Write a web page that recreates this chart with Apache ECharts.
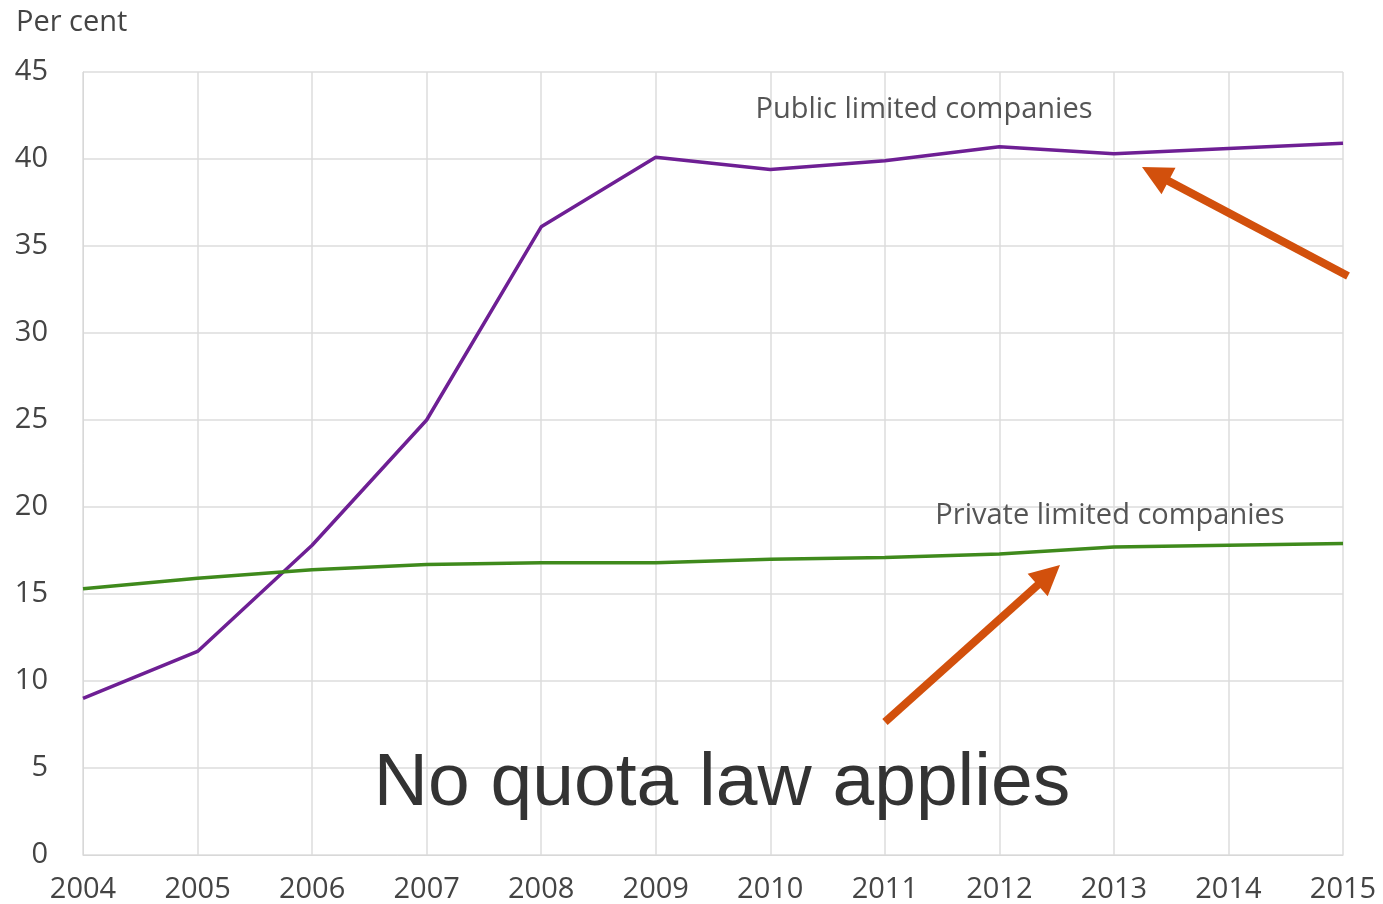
<!DOCTYPE html>
<html>
<head>
<meta charset="utf-8">
<script src="https://cdn.jsdelivr.net/npm/echarts@6/dist/echarts.min.js"></script>
<style>
  html, body { margin: 0; padding: 0; background: #fff; }
  #main { width: 1383px; height: 904px; }
</style>
</head>
<body>
<div id="main"></div>
<script>
var years = ['2004', '2005', '2006', '2007', '2008', '2009', '2010', '2011', '2012', '2013', '2014', '2015'];
var publicCos = [9.0, 11.7, 17.8, 25.0, 36.1, 40.1, 39.4, 39.9, 40.7, 40.3, 40.6, 40.9];
var privateCos = [15.3, 15.9, 16.4, 16.7, 16.8, 16.8, 17.0, 17.1, 17.3, 17.7, 17.8, 17.9];

var chart = echarts.init(document.getElementById('main'));
var font = '"Open Sans", "DejaVu Sans", sans-serif';
var arrowColor = '#d2500c';

// arrow from (x1,y1) to tip (x2,y2) in pixels
function arrow(x1, y1, x2, y2) {
  var dx = x2 - x1, dy = y2 - y1;
  var len = Math.sqrt(dx * dx + dy * dy);
  var ux = dx / len, uy = dy / len;
  var headLen = 30, headW = 15;
  var bx = x2 - ux * headLen, by = y2 - uy * headLen;
  return [{
    type: 'line', z: 100,
    shape: { x1: x1, y1: y1, x2: bx + ux * 2, y2: by + uy * 2 },
    style: { stroke: arrowColor, lineWidth: 8 }
  }, {
    type: 'polygon', z: 100,
    shape: { points: [[x2, y2], [bx - uy * headW, by + ux * headW], [bx + uy * headW, by - ux * headW]] },
    style: { fill: arrowColor }
  }];
}

chart.setOption({
  animation: false,
  grid: { left: 83, right: 40, top: 72, bottom: 49 },
  xAxis: {
    type: 'category',
    data: years,
    boundaryGap: false,
    axisLine: { lineStyle: { color: '#d8d8d8' } },
    axisTick: { show: false },
    axisLabel: { color: '#444', fontSize: 29, fontFamily: font, margin: 20 },
    splitLine: { show: true, lineStyle: { color: '#dcdcdc', width: 1.5 } }
  },
  yAxis: {
    type: 'value',
    min: 0,
    max: 45,
    interval: 5,
    axisLine: { show: true, lineStyle: { color: '#d8d8d8' } },
    axisTick: { show: false },
    axisLabel: { color: '#444', fontSize: 29, fontFamily: font, margin: 35, padding: [4, 0, 0, 0] },
    splitLine: { lineStyle: { color: '#dcdcdc', width: 1.5 } }
  },
  series: [{
    name: 'Public limited companies',
    type: 'line',
    data: publicCos,
    symbol: 'none',
    lineStyle: { color: '#6e1f94', width: 3.5 }
  }, {
    name: 'Private limited companies',
    type: 'line',
    data: privateCos,
    symbol: 'none',
    lineStyle: { color: '#3f8a1c', width: 3.5 }
  }],
  graphic: [{
    type: 'text', left: 16, top: 8, z: 100,
    style: { text: 'Per cent', fill: '#444', font: '29px ' + font }
  }, {
    type: 'text', x: 924, y: 110, z: 100,
    style: { text: 'Public limited companies', fill: '#555', font: '29px ' + font, align: 'center', verticalAlign: 'middle' }
  }, {
    type: 'text', x: 1110, y: 516, z: 100,
    style: { text: 'Private limited companies', fill: '#555', font: '29px ' + font, align: 'center', verticalAlign: 'middle' }
  }, {
    type: 'text', x: 722, y: 784, z: 100,
    style: { text: 'No quota law applies', fill: '#333', font: '75px "Liberation Sans", Arial, sans-serif', align: 'center', verticalAlign: 'middle' }
  }].concat(arrow(1348, 276, 1142, 167), arrow(885, 722, 1060, 565))
});
</script>
</body>
</html>
